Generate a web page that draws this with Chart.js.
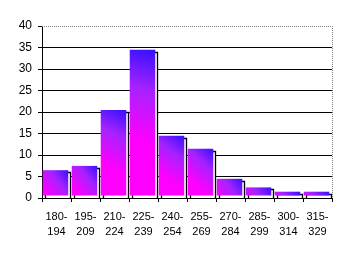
<!DOCTYPE html>
<html>
<head>
<meta charset="utf-8">
<script src="https://cdn.jsdelivr.net/npm/chart.js@4.4.1/dist/chart.umd.min.js"></script>
<style>
  html, body { margin: 0; padding: 0; background: #ffffff; }
  #wrap { width: 348px; height: 256px; }
</style>
</head>
<body>
<div id="wrap"><canvas id="myChart" width="348" height="256"></canvas></div>
<script>
// Datos del histograma
var categorias = [
    ['180-', '194'], ['195-', '209'], ['210-', '224'], ['225-', '239'], ['240-', '254'],
    ['255-', '269'], ['270-', '284'], ['285-', '299'], ['300-', '314'], ['315-', '329']
];
var frecuencias = [6, 7, 20, 34, 14, 11, 4, 2, 1, 1];
var ticksY = [0, 5, 10, 15, 20, 25, 30, 35, 40];

// Degradado magenta -> azul para cada barra
function colorBarra(context) {
    var chart = context.chart;
    if (!chart.chartArea || context.type !== 'data') return '#9933ff';
    var x = chart.scales.x.getPixelForValue(context.dataIndex);
    var top = chart.scales.y.getPixelForValue(context.raw);
    var base = chart.scales.y.getPixelForValue(0);
    var half = 13;
    var h = base - top;
    var g = chart.ctx.createLinearGradient(x + half, top, x - half, top + Math.max(h * 0.6, 20));
    g.addColorStop(0, '#3311ff');
    g.addColorStop(0.45, '#a622ff');
    g.addColorStop(1, '#ff00ff');
    return g;
}

// Contorno negro desplazado detrás de cada barra y borde punteado
var sombraBarras = {
    id: 'sombraBarras',
    beforeDatasetsDraw: function (chart) {
        var ctx = chart.ctx;
        var meta = chart.getDatasetMeta(0);
        ctx.save();
        meta.data.forEach(function (el) {
            var l = Math.round(el.x - el.width / 2 + 1) + 0.5;
            var r = Math.round(el.x + el.width / 2 + 1) + 0.5;
            var t = Math.round(el.y) + 0.5;
            var b = Math.round(el.base);
            ctx.fillStyle = '#ffffff';
            ctx.fillRect(l, t, r - l, b - t);
            ctx.strokeStyle = '#000000';
            ctx.lineWidth = 1.3;
            ctx.beginPath();
            ctx.moveTo(l, b);
            ctx.lineTo(l, t);
            ctx.lineTo(r, t);
            ctx.lineTo(r, b);
            ctx.stroke();
        });
        ctx.restore();
    },
    beforeDatasetDraw: function (chart) {
        chart.ctx.save();
        chart.ctx.translate(-1, -2);
    },
    afterDatasetDraw: function (chart) {
        chart.ctx.restore();
    },
    afterDraw: function (chart) {
        var ctx = chart.ctx;
        var a = chart.chartArea;
        ctx.save();
        ctx.strokeStyle = '#808080';
        ctx.lineWidth = 1;
        ctx.setLineDash([1, 1]);
        ctx.beginPath();
        ctx.moveTo(Math.round(a.left), Math.round(a.top) + 0.5);
        ctx.lineTo(Math.round(a.right) + 0.5, Math.round(a.top) + 0.5);
        ctx.lineTo(Math.round(a.right) + 0.5, Math.round(a.bottom));
        ctx.stroke();
        ctx.restore();
    }
};

var ctx = document.getElementById('myChart').getContext('2d');
var myChart = new Chart(ctx, {
    type: 'bar',
    data: {
        labels: categorias,
        datasets: [{
            data: frecuencias,
            backgroundColor: colorBarra,
            borderWidth: 0,
            barPercentage: 0.88,
            categoryPercentage: 1.0
        }]
    },
    options: {
        responsive: false,
        animation: false,
        layout: { padding: { top: 26, right: 16, left: 0, bottom: 0 } },
        plugins: {
            legend: { display: false },
            tooltip: { enabled: false }
        },
        scales: {
            x: {
                grid: {
                    offset: true,
                    drawOnChartArea: false,
                    drawTicks: true,
                    tickLength: 4,
                    tickColor: '#000000',
                    tickWidth: 1
                },
                border: { display: true, color: '#000000', width: 1 },
                ticks: {
                    color: '#000000',
                    maxRotation: 0,
                    autoSkip: false,
                    padding: 7,
                    font: { family: "'Liberation Sans', Arial, sans-serif", size: 11, lineHeight: 1.37 }
                },
                afterFit: function (scale) { scale.height = 58; }
            },
            y: {
                min: 0,
                max: 40,
                afterBuildTicks: function (scale) {
                    scale.ticks = ticksY.map(function (v) { return { value: v }; });
                },
                grid: {
                    color: function (c) { return c.tick && c.tick.value === 40 ? 'rgba(0,0,0,0)' : '#000000'; },
                    lineWidth: 1,
                    drawTicks: true,
                    tickLength: 4,
                    tickColor: '#000000'
                },
                border: { display: true, color: '#000000', width: 1 },
                ticks: {
                    color: '#000000',
                    padding: 6,
                    font: { family: "'Liberation Sans', Arial, sans-serif", size: 12 }
                },
                afterFit: function (scale) { scale.width = 42; }
            }
        }
    },
    plugins: [sombraBarras]
});
</script>
</body>
</html>
